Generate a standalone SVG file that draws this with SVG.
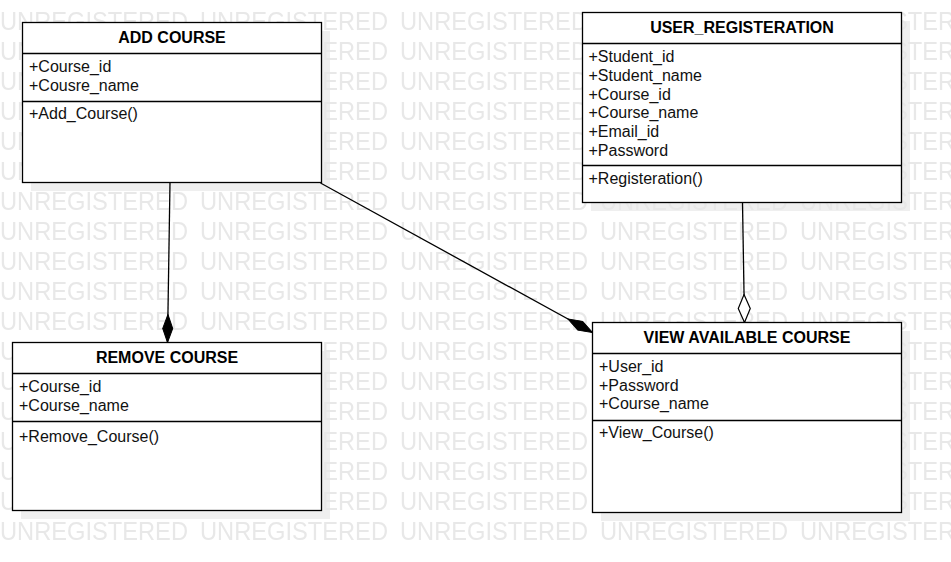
<svg xmlns="http://www.w3.org/2000/svg" width="951" height="562" viewBox="0 0 951 562">
<style>
.box{fill:#fff;stroke:#000;stroke-width:1.3}
.sh{fill:#efefef}
.sep{stroke:#000;stroke-width:1.3;fill:none}
.t{font-family:"Liberation Sans",Arial,sans-serif;font-size:16px;font-weight:bold;fill:#000;text-anchor:middle}
.a{font-family:"Liberation Sans",Arial,sans-serif;font-size:16px;fill:#111}
.wm{font-family:"Liberation Sans",Arial,sans-serif;font-size:25px;fill:#e8e8e8}
.ln{stroke:#000;stroke-width:1.3;fill:none}
</style>
<defs>
<pattern id="wmp" patternUnits="userSpaceOnUse" x="0" y="10" width="200" height="30">
<text class="wm" x="0" y="20" textLength="188" lengthAdjust="spacingAndGlyphs">UNREGISTERED</text>
</pattern>
<marker id="fd" markerUnits="userSpaceOnUse" markerWidth="30" markerHeight="12" refX="29" refY="6" orient="auto">
<path d="M1,6 L15,1 L29,6 L15,11 Z" fill="#000" stroke="#000" stroke-width="1"/>
</marker>
<marker id="od" markerUnits="userSpaceOnUse" markerWidth="30" markerHeight="14" refX="29" refY="7" orient="auto">
<path d="M1,7 L15,1 L29,7 L15,13 Z" fill="#fff" stroke="#000" stroke-width="1.2"/>
</marker>
</defs>
<rect width="951" height="562" fill="#fff"/>
<g id="shadows">
<rect class="sh" x="31" y="31" width="299" height="160"/>
<rect class="sh" x="591" y="21" width="319" height="190"/>
<rect class="sh" x="21" y="351" width="309" height="168"/>
<rect class="sh" x="601" y="331" width="309" height="190"/>
</g>
<rect id="watermark" x="0" y="0" width="951" height="545" fill="url(#wmp)"/>
<g id="connectors">
<path class="ln" d="M170,182.5 L167.5,342.5" marker-end="url(#fd)"/>
<path class="ln" d="M320.5,183 L592.5,332.5" marker-end="url(#fd)"/>
<path class="ln" d="M742.5,202.5 L744.5,322.5" marker-end="url(#od)"/>
</g>
<g id="add-course">
<rect class="box" x="22.5" y="22.5" width="299" height="160"/>
<path class="sep" d="M22.5,53.5 H321.5 M22.5,101.5 H321.5"/>
<text class="t" x="172" y="43">ADD COURSE</text>
<text class="a" x="29" y="72">+Course_id</text>
<text class="a" x="29" y="91">+Cousre_name</text>
<text class="a" x="29" y="119">+Add_Course()</text>
</g>
<g id="user-registeration">
<rect class="box" x="582.5" y="12.5" width="319" height="190"/>
<path class="sep" d="M582.5,43.5 H901.5 M582.5,165.5 H901.5"/>
<text class="t" x="742" y="33">USER_REGISTERATION</text>
<text class="a" x="588.5" y="62">+Student_id</text>
<text class="a" x="588.5" y="81">+Student_name</text>
<text class="a" x="588.5" y="99.5">+Course_id</text>
<text class="a" x="588.5" y="118">+Course_name</text>
<text class="a" x="588.5" y="137">+Email_id</text>
<text class="a" x="588.5" y="155.5">+Password</text>
<text class="a" x="588.5" y="184">+Registeration()</text>
</g>
<g id="remove-course">
<rect class="box" x="12.5" y="342.5" width="309" height="168"/>
<path class="sep" d="M12.5,373.5 H321.5 M12.5,421.5 H321.5"/>
<text class="t" x="167" y="363">REMOVE COURSE</text>
<text class="a" x="19" y="391.5">+Course_id</text>
<text class="a" x="19" y="410.5">+Course_name</text>
<text class="a" x="19" y="441.5">+Remove_Course()</text>
</g>
<g id="view-available-course">
<rect class="box" x="592.5" y="322.5" width="309" height="190"/>
<path class="sep" d="M592.5,353.5 H901.5 M592.5,420.5 H901.5"/>
<text class="t" x="747" y="343">VIEW AVAILABLE COURSE</text>
<text class="a" x="599" y="371.5">+User_id</text>
<text class="a" x="599" y="390.5">+Password</text>
<text class="a" x="599" y="408.5">+Course_name</text>
<text class="a" x="599" y="437.5">+View_Course()</text>
</g>
</svg>
